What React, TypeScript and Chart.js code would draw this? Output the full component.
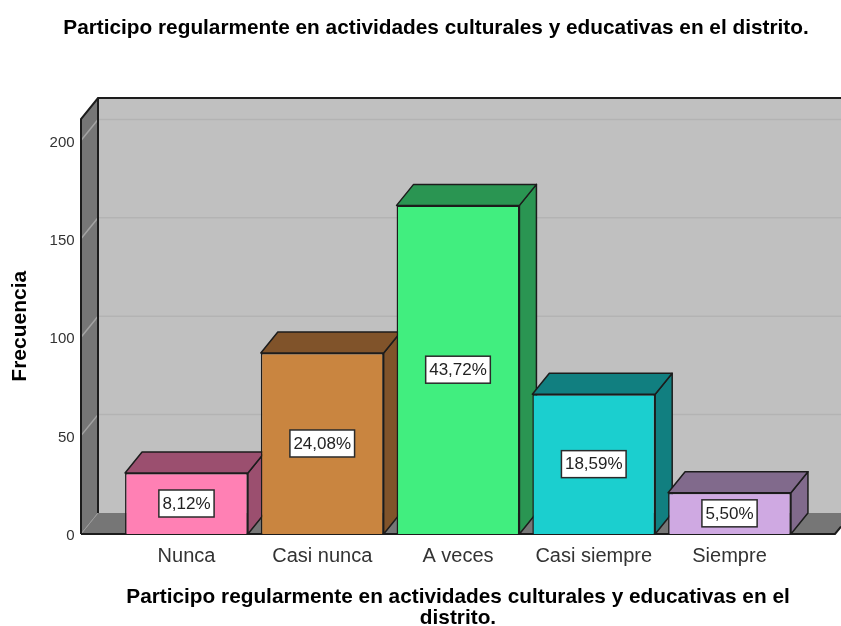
import React, { useEffect, useRef } from "react";
import { Chart, registerables } from "chart.js";

Chart.register(...registerables);

const categories = ["Nunca", "Casi nunca", "A veces", "Casi siempre", "Siempre"];
const frequencies = [31, 92, 167, 71, 21];
const percentLabels = ["8,12%", "24,08%", "43,72%", "18,59%", "5,50%"];
const frontColors = ["#ff80b4", "#c98540", "#41ee7f", "#1bcfcf", "#cfa9e2"];
const sideColors = ["#9b4f6f", "#80532a", "#2a9552", "#117f80", "#816a8c"];
const yTicks = [0, 50, 100, 150, 200];
const chartTitle = "Participo regularmente en actividades culturales y educativas en el distrito.";
const xTitle = ["Participo regularmente en actividades culturales y educativas en el", "distrito."];
const yTitle = "Frecuencia";

const FONT = "'Liberation Sans', Arial, sans-serif";
const DX = 17;
const DY = 21;
const FLOOR_LEFT = 81;
const FLOOR_RIGHT = 835;
const WALL_TOP = 98;
const LINE = "#1c1c1c";

function poly(ctx: CanvasRenderingContext2D, pts: number[][], fill?: string, stroke?: string, lw = 1.5) {
  ctx.beginPath();
  pts.forEach((p, i) => (i ? ctx.lineTo(p[0], p[1]) : ctx.moveTo(p[0], p[1])));
  ctx.closePath();
  if (fill) {
    ctx.fillStyle = fill;
    ctx.fill();
  }
  if (stroke) {
    ctx.strokeStyle = stroke;
    ctx.lineWidth = lw;
    ctx.lineJoin = "round";
    ctx.stroke();
  }
}

const layoutFix = {
  id: "layoutFix",
  afterLayout(chart: any) {
    if (chart.titleBlock) {
      chart.titleBlock.left = 31;
      chart.titleBlock.right = 841;
    }
    const sc = chart.scales.y;
    if (!sc._wrapped) {
      const orig = sc.drawTitle.bind(sc);
      sc.drawTitle = () => {
        const t = sc.top;
        sc.top = t - 22;
        orig();
        sc.top = t;
      };
      sc._wrapped = true;
    }
  },
};

const walls3d = {
  id: "walls3d",
  beforeDatasetsDraw(chart: any) {
    const { ctx, scales } = chart;
    const y = scales.y;
    const base = y.getPixelForValue(0);
    const frontTop = WALL_TOP + DY;
    ctx.save();
    // back wall
    poly(ctx, [[FLOOR_LEFT + DX, WALL_TOP], [841, WALL_TOP], [841, base - DY], [FLOOR_LEFT + DX, base - DY]], "#c0c0c0");
    // floor
    poly(ctx, [[FLOOR_LEFT, base], [FLOOR_LEFT + DX, base - DY], [FLOOR_RIGHT + DX, base - DY], [FLOOR_RIGHT, base]], "#767676");
    // left wall
    poly(ctx, [[FLOOR_LEFT, frontTop], [FLOOR_LEFT + DX, WALL_TOP], [FLOOR_LEFT + DX, base - DY], [FLOOR_LEFT, base]], "#767676");
    // grid lines (back wall and left wall)
    yTicks.slice(1).forEach((v) => {
      const py = y.getPixelForValue(v);
      ctx.strokeStyle = "#b3b3b3";
      ctx.lineWidth = 1.5;
      ctx.beginPath();
      ctx.moveTo(FLOOR_LEFT + DX, py - DY);
      ctx.lineTo(841, py - DY);
      ctx.stroke();
      ctx.strokeStyle = "#a3a3a3";
      ctx.beginPath();
      ctx.moveTo(FLOOR_LEFT, py);
      ctx.lineTo(FLOOR_LEFT + DX, py - DY);
      ctx.stroke();
    });
    ctx.strokeStyle = "#9a9a9a";
    ctx.lineWidth = 1;
    ctx.beginPath();
    ctx.moveTo(FLOOR_LEFT, base);
    ctx.lineTo(FLOOR_LEFT + DX, base - DY);
    ctx.stroke();
    // frame
    ctx.strokeStyle = LINE;
    ctx.lineWidth = 2;
    ctx.beginPath();
    ctx.moveTo(FLOOR_LEFT, base);
    ctx.lineTo(FLOOR_LEFT, frontTop);
    ctx.lineTo(FLOOR_LEFT + DX, WALL_TOP);
    ctx.lineTo(841, WALL_TOP);
    ctx.moveTo(FLOOR_LEFT + DX, WALL_TOP);
    ctx.lineTo(FLOOR_LEFT + DX, base - DY);
    ctx.moveTo(FLOOR_LEFT, base);
    ctx.lineTo(FLOOR_RIGHT, base);
    ctx.lineTo(841, base - (6 * DY) / DX);
    ctx.stroke();

    // bar depth faces
    const bars = chart.getDatasetMeta(0).data;
    bars.forEach((bar: any, i: number) => {
      const l = bar.x - bar.width / 2;
      const r = bar.x + bar.width / 2;
      const t = bar.y;
      const b = bar.base;
      poly(ctx, [[r, t], [r + DX, t - DY], [r + DX, b - DY], [r, b]], sideColors[i], LINE);
      poly(ctx, [[l, t], [l + DX, t - DY], [r + DX, t - DY], [r, t]], sideColors[i], LINE);
    });
    ctx.restore();
  },
};

const valueBoxes = {
  id: "valueBoxes",
  afterDatasetsDraw(chart: any) {
    const { ctx } = chart;
    ctx.save();
    ctx.font = `17px ${FONT}`;
    ctx.textAlign = "center";
    ctx.textBaseline = "middle";
    chart.getDatasetMeta(0).data.forEach((bar: any, i: number) => {
      const cy = (bar.y + bar.base) / 2;
      const w = ctx.measureText(percentLabels[i]).width + 7;
      const h = 27;
      ctx.fillStyle = "#ffffff";
      ctx.strokeStyle = "#2a2a2a";
      ctx.lineWidth = 1.5;
      ctx.fillRect(bar.x - w / 2, cy - h / 2, w, h);
      ctx.strokeRect(bar.x - w / 2, cy - h / 2, w, h);
      ctx.fillStyle = "#222222";
      ctx.fillText(percentLabels[i], bar.x, cy + 0.5);
    });
    ctx.restore();
  },
};

export default function App() {
  const ref = useRef<HTMLCanvasElement>(null);
  useEffect(() => {
    document.body.style.margin = "0";
    const chart = new Chart(ref.current!, {
      type: "bar",
      data: {
        labels: categories,
        datasets: [
          {
            label: "Frecuencia",
            data: frequencies,
            backgroundColor: frontColors,
            borderColor: LINE,
            borderWidth: 1.5,
            barPercentage: 0.905,
            categoryPercentage: 1,
          },
        ],
      },
      options: {
        responsive: false,
        animation: false,
        layout: { padding: { left: 0, right: 43.6, top: 0, bottom: 0 } },
        plugins: {
          legend: { display: false },
          tooltip: { enabled: false },
          title: {
            display: true,
            text: chartTitle,
            color: "#000000",
            font: { family: FONT, size: 20.8, weight: "bold", lineHeight: 1.2 },
            padding: { top: 15.5, bottom: 100 },
          },
        },
        scales: {
          x: {
            afterFit(s: any) {
              s.height = 92;
            },
            grid: { display: false },
            border: { display: false },
            ticks: {
              color: "#333333",
              font: { family: FONT, size: 20 },
              padding: 2,
              maxRotation: 0,
              autoSkip: false,
            },
            title: {
              display: true,
              text: xTitle,
              color: "#000000",
              font: { family: FONT, size: 20.8, weight: "bold", lineHeight: 1.01 },
              padding: { top: 0, bottom: -2.5 },
            },
          },
          y: {
            min: 0,
            max: 200,
            afterFit(s: any) {
              s.width = 118.6;
            },
            afterBuildTicks(s: any) {
              s.ticks = yTicks.map((value) => ({ value }));
            },
            grid: { display: false, drawTicks: false },
            border: { display: false },
            ticks: {
              color: "#333333",
              font: { family: FONT, size: 15 },
              padding: 44,
              labelOffset: 2,
            },
            title: {
              display: true,
              text: yTitle,
              color: "#000000",
              font: { family: FONT, size: 21, weight: "bold", lineHeight: 1.2 },
              padding: { top: 8, bottom: 0 },
            },
          },
        },
      },
      plugins: [layoutFix, walls3d, valueBoxes],
    } as any);
    return () => chart.destroy();
  }, []);
  return <canvas ref={ref} width={841} height={626} style={{ display: "block", width: 841, height: 626 }} />;
}
